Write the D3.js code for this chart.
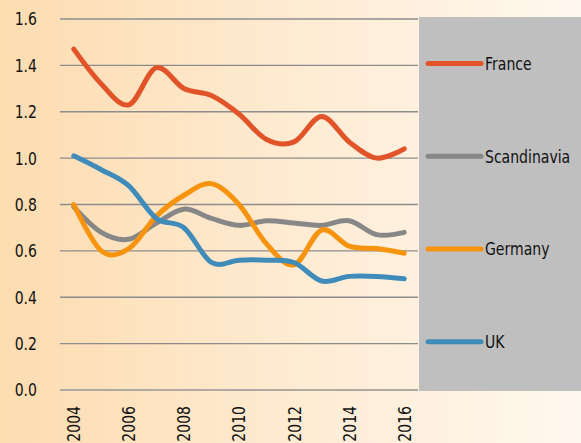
<!DOCTYPE html>
<html>
<head>
<meta charset="utf-8">
<script src="https://cdn.jsdelivr.net/npm/d3@7"></script>
<style>
  body { margin: 0; }
  svg text { font-family: "DejaVu Sans", sans-serif; fill: #111; }
</style>
</head>
<body>
<div class="chart"></div>
<script>
var years = ["2004","2005","2006","2007","2008","2009","2010","2011","2012","2013","2014","2015","2016"];
var yTicks = [0, 0.2, 0.4, 0.6, 0.8, 1.0, 1.2, 1.4, 1.6];
var names = ["France", "Scandinavia", "Germany", "UK"];
var colors = ["#e1542a", "#878787", "#f7930c", "#3f8bba"];

var france      = [1.47, 1.32, 1.23, 1.39, 1.30, 1.27, 1.19, 1.08, 1.07, 1.18, 1.07, 1.00, 1.04];
var scandinavia = [0.79, 0.68, 0.65, 0.72, 0.78, 0.74, 0.71, 0.73, 0.72, 0.71, 0.73, 0.67, 0.68];
var germany     = [0.80, 0.60, 0.61, 0.75, 0.84, 0.89, 0.80, 0.63, 0.54, 0.69, 0.62, 0.61, 0.59];
var uk          = [1.01, 0.95, 0.88, 0.74, 0.70, 0.55, 0.56, 0.56, 0.55, 0.47, 0.49, 0.49, 0.48];
var series = [france, scandinavia, germany, uk];

var W = 581, H = 443;
// note: "top" is a reserved window property, so use plot* names
var plotLeft = 60, plotRight = 418, plotTop = 19, plotBottom = 390;
// no condensed face installed, so squeeze the glyphs by hand
var squeeze = " scale(0.78,1)";

var svg = d3.select(".chart").append("svg")
            .attr("width", W)
            .attr("height", H);

var grad = svg.append("defs").append("linearGradient")
              .attr("id", "bg")
              .attr("x1", "0%").attr("x2", "100%")
              .attr("y1", "0%").attr("y2", "0%");
grad.append("stop").attr("offset", "0%").attr("stop-color", "#fddcb0");
grad.append("stop").attr("offset", "50%").attr("stop-color", "#feebd2");
grad.append("stop").attr("offset", "100%").attr("stop-color", "#fff8ef");

svg.append("rect")
   .attr("width", W).attr("height", H)
   .attr("fill", "url(#bg)");

// legend panel
svg.append("rect")
   .attr("x", 419).attr("y", 17)
   .attr("width", W - 419).attr("height", 374)
   .attr("fill", "#bfbfbf");

var x = d3.scalePoint().domain(years).range([plotLeft, plotRight]).padding(0.5);
var y = d3.scaleLinear().domain([0, 1.6]).range([plotBottom, plotTop]);

// gridlines
svg.append("g").selectAll("line")
   .data(yTicks)
   .enter()
   .append("line")
   .attr("x1", plotLeft).attr("x2", plotRight)
   .attr("y1", function(d){ return y(d); })
   .attr("y2", function(d){ return y(d); })
   .attr("stroke", function(d){ return d === 0 ? "#b0aaa2" : "#8c8c8c"; })
   .attr("stroke-width", function(d){ return d === 0 ? 2 : 1.3; });

// y labels
svg.append("g").selectAll("text")
   .data(yTicks)
   .enter()
   .append("text")
   .attr("transform", function(d){ return "translate(37," + y(d) + ")" + squeeze; })
   .attr("dy", "0.36em")
   .attr("text-anchor", "end")
   .attr("font-size", 18)
   .text(function(d){ return d3.format(".1f")(d); });

// x labels (every other year)
svg.append("g").selectAll("text")
   .data(years.filter(function(d, i){ return i % 2 === 0; }))
   .enter()
   .append("text")
   .attr("transform", function(d){ return "translate(" + x(d) + ",406) rotate(-90)" + squeeze; })
   .attr("dy", "0.36em")
   .attr("text-anchor", "end")
   .attr("font-size", 18)
   .text(function(d){ return d; });

var line = d3.line()
             .x(function(d, i){ return x(years[i]); })
             .y(function(d){ return y(d); })
             .curve(d3.curveCatmullRom.alpha(0));

svg.append("g").selectAll("path")
   .data(series)
   .enter()
   .append("path")
   .attr("d", line)
   .attr("fill", "none")
   .attr("stroke", function(d, i){ return colors[i]; })
   .attr("stroke-width", 5)
   .attr("stroke-linecap", "round")
   .attr("stroke-linejoin", "round");

// legend
var legendY = [1.4, 1.0, 0.6, 0.2];
var lg = svg.append("g").selectAll("g")
            .data(names)
            .enter()
            .append("g")
            .attr("transform", function(d, i){ return "translate(0," + (y(legendY[i]) - 2) + ")"; });

lg.append("line")
  .attr("x1", 428).attr("x2", 481)
  .attr("stroke", function(d, i){ return colors[i]; })
  .attr("stroke-width", 5)
  .attr("stroke-linecap", "round");

lg.append("text")
  .attr("transform", "translate(485,0)" + squeeze)
  .attr("dy", "0.36em")
  .attr("font-size", 18)
  .text(function(d){ return d; });
</script>
</body>
</html>
